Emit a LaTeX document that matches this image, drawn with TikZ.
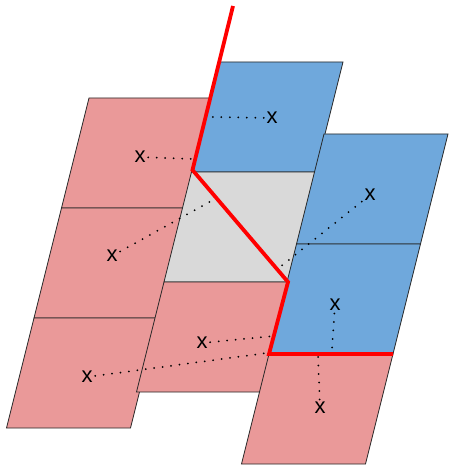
\documentclass[tikz,border=0pt]{standalone}
\usepackage{fontspec}
\setmainfont{Liberation Sans}
\usetikzlibrary{positioning}
\definecolor{cellpink}{HTML}{EA9999}
\definecolor{cellblue}{HTML}{6FA8DC}
\definecolor{cellgray}{HTML}{D9D9D9}
\newcommand{\cellat}[3]{\draw[#1] (#2,#3) -- ++(124,0) -- ++(-27.5,110) -- ++(-124,0) -- cycle;}

\begin{document}
\begin{tikzpicture}[x=1pt, y=-1pt,
		pinkcell/.style={fill=cellpink, draw=black!85, line width=0.8pt},
		bluecell/.style={fill=cellblue, draw=black!85, line width=0.8pt},
		graycell/.style={fill=cellgray, draw=black!85, line width=0.8pt},
		xmark/.style={inner sep=2.5pt, font=\fontsize{22}{22}\selectfont},
		link/.style={line width=2pt, line cap=round, dash pattern=on 0pt off 8.5pt},
		cut/.style={draw=red, line width=3.8pt}
		]
		\useasboundingbox (0,0) rectangle (448,465);
		\cellat{pinkcell}{89}{98}
		\cellat{pinkcell}{61.5}{208}
		\cellat{pinkcell}{34}{318}
		\cellat{bluecell}{219}{62}
		\cellat{graycell}{191.5}{172}
		\cellat{pinkcell}{164}{282}
		\cellat{bluecell}{324}{134}
		\cellat{bluecell}{296.5}{244}
		\cellat{pinkcell}{269}{354}
		\node[xmark] (cenM1) at (272,118) {x};
		\node[xmark] (cenL1) at (140,157) {x};
		\node[xmark] (cenL2) at (112,256) {x};
		\node[xmark] (cenL3) at (87,377) {x};
		\node[xmark] (cenM3) at (202,343) {x};
		\node[xmark] (cenR1) at (370,195) {x};
		\node[xmark] (cenR2) at (335,305) {x};
		\node[xmark] (cenR3) at (320,408) {x};
		\coordinate (faceM1) at (212,117);
		\coordinate (faceL1) at (193,159);
		\coordinate (faceL2) at (213,200);
		\coordinate (faceL3) at (267,353);
		\coordinate (faceM3) at (274,336);
		\coordinate (faceR1) at (280,267);
		\coordinate (faceR2) at (332,349);
		\coordinate (faceR3) at (318,356);
		\draw[link] (cenM1) -- (faceM1);
		\draw[link] (cenL1) -- (faceL1);
		\draw[link] (cenL2) -- (faceL2);
		\draw[link] (cenL3) -- (faceL3);
		\draw[link] (cenM3) -- (faceM3);
		\draw[link] (cenR1) -- (faceR1);
		\draw[link] (cenR2) -- (faceR2);
		\draw[link] (cenR3) -- (faceR3);
		\draw[cut] (233,6) -- (192.5,170) -- (288,282) -- (269,354) -- (393,354);
	\end{tikzpicture}
\end{document}
